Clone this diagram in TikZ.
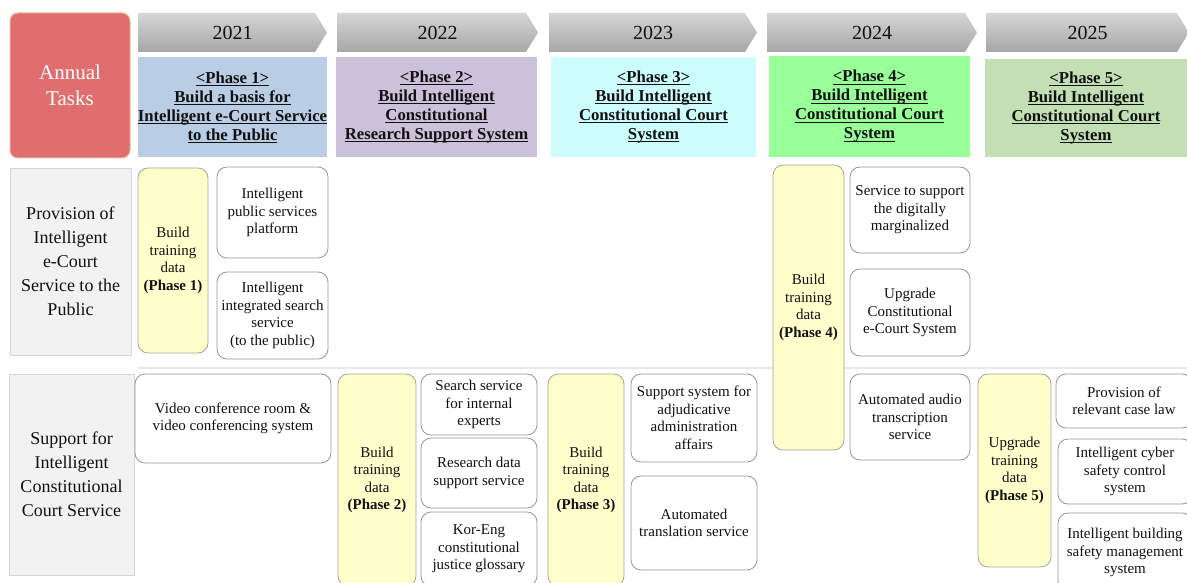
\documentclass[tikz,border=0pt]{standalone}
\usepackage{fontspec}
\setmainfont{Liberation Serif}
\definecolor{annualfill}{RGB}{224,110,110}
\definecolor{annualdraw}{RGB}{240,178,150}
\definecolor{pone}{RGB}{185,205,229}
\definecolor{ptwo}{RGB}{204,193,218}
\definecolor{pthree}{RGB}{204,252,252}
\definecolor{pfour}{RGB}{153,255,153}
\definecolor{pfive}{RGB}{195,224,181}
\definecolor{trainyellow}{RGB}{255,255,204}
\definecolor{ybord}{RGB}{165,165,150}
\definecolor{bordergray}{RGB}{150,150,150}
\definecolor{lfill}{RGB}{242,242,242}
\definecolor{ldraw}{RGB}{215,215,215}
\definecolor{sepgray}{RGB}{232,232,232}
\definecolor{arrtop}{RGB}{214,214,214}
\definecolor{arrbot}{RGB}{166,166,166}
\definecolor{txt}{RGB}{17,17,17}
\newcommand\myul[1]{\leavevmode\setbox0\hbox{#1}\rlap{\rule[-2.4pt]{\wd0}{0.8pt}}\box0}
\newcommand\cell[7]{%
  \pgfmathsetmacro\cx{(#3+#5)/2}%
  \pgfmathsetmacro\cy{(#4+#6)/2}%
  \pgfmathsetmacro\cw{#5-#3}%
  \pgfmathsetmacro\ch{#6-#4}%
  \node[#1, minimum width=\cw pt, minimum height=\ch pt] (#2) at (\cx,\cy) {#7};}
\newcommand\chev[4]{%
  \shade[arrowshade] (#2,13) -- ({#3-12},13) -- (#3,32.5) -- ({#3-12},52) -- (#2,52) -- cycle;
  \node[yeartext] (#1) at ({(#2+#3)/2},33) {#4};}
\begin{document}
\begin{tikzpicture}[x=1pt,y=-1pt,
  cellfont/.style={font=\fontsize{15}{17.5}\selectfont},
  wbox/.style={draw=bordergray, line width=0.8pt, rounded corners=10pt, fill=white,
     align=center, inner sep=0pt, text=txt, cellfont},
  ybox/.style={wbox, fill=trainyellow, draw=ybord},
  lbox/.style={draw=ldraw, line width=0.8pt, fill=lfill, align=center, inner sep=0pt,
     text=txt, font=\fontsize{18}{24}\selectfont},
  phbox/.style={align=center, inner sep=0pt, text=txt, font=\bfseries\fontsize{16.7}{19}\selectfont},
  yeartext/.style={font=\fontsize{20}{24}\selectfont, inner sep=0pt, text=txt},
  arrowshade/.style={top color=arrtop, bottom color=arrbot, draw=none},
  annual/.style={fill=annualfill, draw=annualdraw, line width=1pt, rounded corners=8pt,
     align=center, inner sep=0pt, text=white, font=\fontsize{21}{26}\selectfont}
]
\useasboundingbox (0,0) rectangle (1187,583);
\clip (0,0) rectangle (1187,583);

% header
\cell{annual}{annual}{10}{13}{130}{158}{Annual\\Tasks}
\chev{y2021}{138}{327}{2021}
\chev{y2022}{337}{538}{2022}
\chev{y2023}{549}{757}{2023}
\chev{y2024}{767}{977}{2024}
\chev{y2025}{986}{1189}{2025}

\cell{phbox,fill=pone}{ph1}{138}{57}{327}{157}{\myul{<Phase 1>}\\\myul{Build a basis for}\\\myul{Intelligent e-Court Service}\\\myul{to the Public}}
\cell{phbox,fill=ptwo}{ph2}{336}{57}{537}{157}{\myul{<Phase 2>}\\\myul{Build Intelligent}\\\myul{Constitutional}\\\myul{Research Support System}}
\cell{phbox,fill=pthree}{ph3}{551}{57}{756}{157}{\myul{<Phase 3>}\\\myul{Build Intelligent}\\\myul{Constitutional Court}\\\myul{System}}
\cell{phbox,fill=pfour}{ph4}{769}{56}{970}{157}{\myul{<Phase 4>}\\\myul{Build Intelligent}\\\myul{Constitutional Court}\\\myul{System}}
\cell{phbox,fill=pfive}{ph5}{985}{59}{1187}{157}{\myul{<Phase 5>}\\\myul{Build Intelligent}\\\myul{Constitutional Court}\\\myul{System}}

% row labels
\cell{lbox}{rowA}{10}{168}{131}{355}{Provision of\\Intelligent\\e-Court\\Service to the\\Public}
\cell{lbox}{rowB}{9}{374}{134}{575}{Support for\\Intelligent\\Constitutional\\Court Service}

% separator
\coordinate (sepL) at (138,368);
\coordinate (sepR) at (1187,368);
\draw[sepgray, line width=1.5pt] (sepL) -- (sepR);

% provision row
\cell{ybox}{tr1}{138}{168}{208}{353}{Build\\training\\data\\\textbf{(Phase 1)}}
\cell{wbox}{ips}{217}{167}{328}{258}{Intelligent\\public services\\platform}
\cell{wbox}{iis}{217}{272}{328}{359}{Intelligent\\integrated search\\service\\(to the public)}
\cell{ybox}{tr4}{773}{165}{844}{450}{Build\\training\\data\\\textbf{(Phase 4)}}
\cell{wbox}{sdm}{850}{167}{970}{253}{Service to support\\the digitally\\marginalized}
\cell{wbox}{uce}{850}{269}{970}{356}{Upgrade\\Constitutional\\e-Court System}
\cell{wbox}{aat}{850}{374}{970}{460}{Automated audio\\transcription\\service}

% support row
\cell{wbox}{vcr}{135}{374}{331}{463}{Video conference room \&\\video conferencing system}
\cell{ybox}{tr2}{338}{374}{416}{586}{Build\\training\\data\\\textbf{(Phase 2)}}
\cell{wbox}{ssi}{421}{374}{537}{435}{Search service\\for internal\\experts}
\cell{wbox}{rds}{421}{438}{537}{508}{Research data\\support service}
\cell{wbox}{keg}{421}{512}{537}{586}{Kor-Eng\\constitutional\\justice glossary}
\cell{ybox}{tr3}{548}{374}{624}{586}{Build\\training\\data\\\textbf{(Phase 3)}}
\cell{wbox}{ssa}{631}{374}{757}{462}{Support system for\\adjudicative\\administration\\affairs}
\cell{wbox}{ats}{631}{476}{757}{570}{Automated\\translation service}
\cell{ybox}{tr5}{978}{374}{1051}{567}{Upgrade\\training\\data\\\textbf{(Phase 5)}}
\cell{wbox}{prc}{1056}{374}{1192}{428}{Provision of\\relevant case law}
\cell{wbox}{ics}{1058}{439}{1192}{504}{Intelligent cyber\\safety control\\system}
\cell{wbox}{ibs}{1058}{513}{1192}{592}{Intelligent building\\safety management\\system}
\end{tikzpicture}
\end{document}
